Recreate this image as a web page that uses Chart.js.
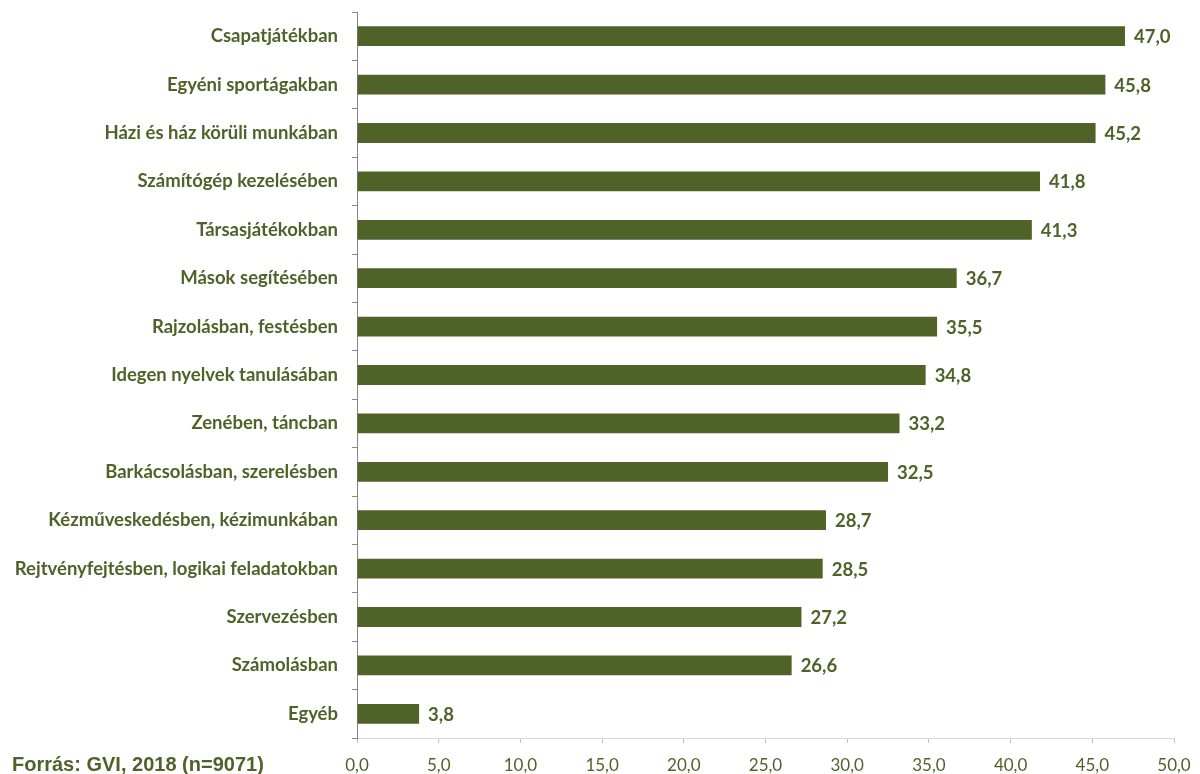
<!DOCTYPE html>
<html>
<head>
<meta charset="utf-8">
<script src="https://cdn.jsdelivr.net/npm/chart.js@4"></script>
<style>
  html, body { margin: 0; padding: 0; background: #fff; }
  #wrap { width: 1200px; height: 774px; }
</style>
</head>
<body>
<div id="wrap"><canvas id="barplot" width="1200" height="774"></canvas></div>
<script>
var categories = ['Csapatjátékban', 'Egyéni sportágakban', 'Házi és ház körüli munkában', 'Számítógép kezelésében',
  'Társasjátékokban', 'Mások segítésében', 'Rajzolásban, festésben', 'Idegen nyelvek tanulásában',
  'Zenében, táncban', 'Barkácsolásban, szerelésben', 'Kézműveskedésben, kézimunkában',
  'Rejtvényfejtésben, logikai feladatokban', 'Szervezésben', 'Számolásban', 'Egyéb'];
var values = [47.0, 45.8, 45.2, 41.8, 41.3, 36.7, 35.5, 34.8, 33.2, 32.5, 28.7, 28.5, 27.2, 26.6, 3.8];
var sourceText = 'Forrás: GVI, 2018 (n=9071)';

var green = '#4F6228';
var fmt = function (v) { return Number(v).toFixed(1).replace('.', ','); };

var valueLabels = {
  id: 'valueLabels',
  afterDatasetsDraw: function (chart) {
    var ctx = chart.ctx;
    ctx.save();
    ctx.font = 'bold 18.5px Lato';
    ctx.fillStyle = green;
    ctx.textBaseline = 'middle';
    ctx.textAlign = 'left';
    chart.getDatasetMeta(0).data.forEach(function (bar, i) {
      ctx.fillText(fmt(values[i]), bar.x + 9, bar.y + 1);
    });
    ctx.font = 'bold 20px "Liberation Sans"';
    ctx.textBaseline = 'alphabetic';
    ctx.fillText(sourceText, 12, 771);
    ctx.restore();
  }
};

new Chart('barplot', {
  type: 'bar',
  data: {
    labels: categories,
    datasets: [{
      data: values,
      backgroundColor: green,
      barPercentage: 0.41,
      categoryPercentage: 1
    }]
  },
  options: {
    indexAxis: 'y',
    responsive: false,
    animation: false,
    layout: { padding: { top: 12, right: 26, left: 0, bottom: 0 } },
    plugins: { legend: { display: false }, tooltip: { enabled: false } },
    scales: {
      x: {
        min: 0, max: 50,
        ticks: { stepSize: 5, color: green, font: { family: 'Lato', size: 17 }, padding: 12, callback: fmt },
        grid: { drawOnChartArea: false, tickLength: 5, color: '#BFBFBF' },
        border: { color: '#D9D9D9' },
        afterFit: function (s) { s.height = 36; s.paddingLeft = 0; s.paddingRight = 0; }
      },
      y: {
        ticks: { color: green, font: { family: 'Lato', size: 18.5, weight: 'bold' }, padding: 14 },
        grid: { drawOnChartArea: false, tickLength: 5, color: '#868686' },
        border: { color: '#868686' },
        afterFit: function (s) { s.width = 357; s.paddingTop = 0; s.paddingBottom = 0; }
      }
    }
  },
  plugins: [valueLabels]
});
</script>
</body>
</html>
